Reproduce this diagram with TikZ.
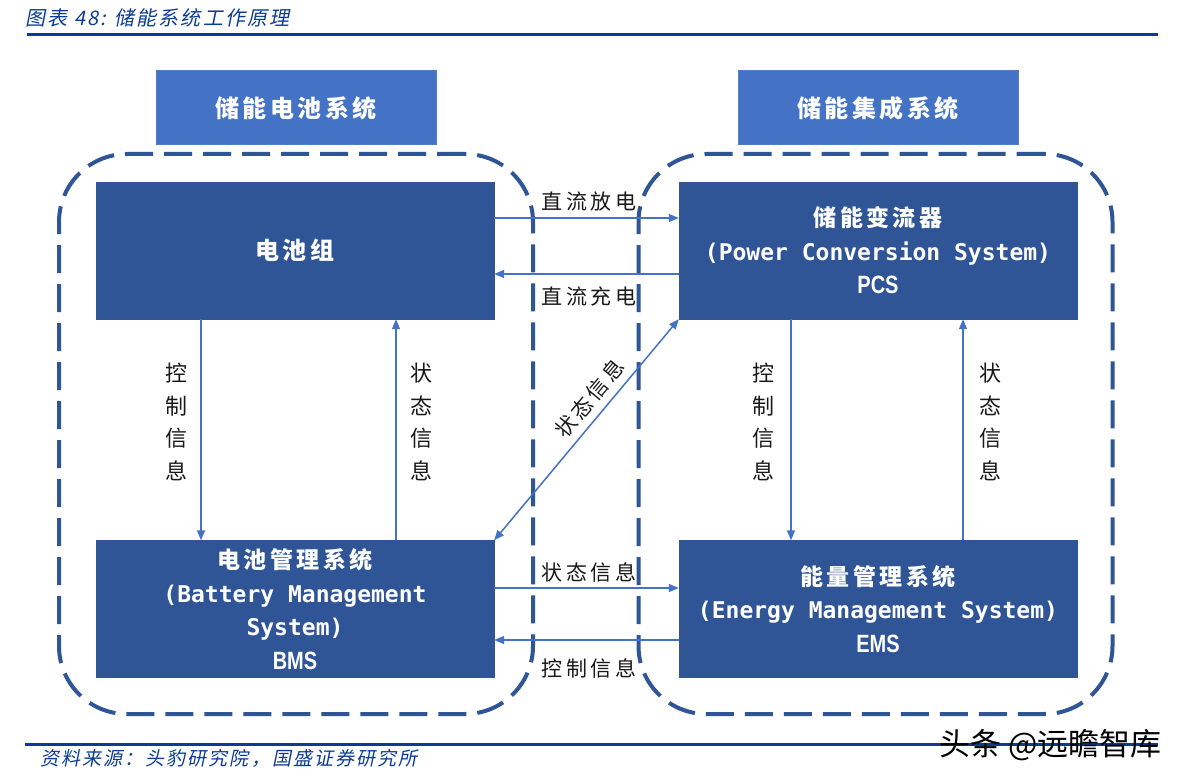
\documentclass[tikz,border=0pt]{standalone}
\usepackage{fontspec}
\setmainfont{Noto Sans CJK SC}
\newfontfamily\cjk{Noto Sans CJK SC}
\newfontfamily\cjkhead[LetterSpace=15]{Noto Sans CJK SC}
\newfontfamily\cjklab[LetterSpace=16]{Noto Sans CJK SC}
\newfontfamily\cjkit[FakeSlant=0.2,LetterSpace=11]{Noto Sans CJK SC}
\newfontfamily\monofont{DejaVu Sans Mono}
\newfontfamily\narrowfont[FakeStretch=0.8]{Liberation Sans}
\usetikzlibrary{arrows.meta}
\definecolor{boxblue}{RGB}{47,85,151}
\definecolor{headblue}{RGB}{68,114,196}
\definecolor{headedge}{RGB}{80,125,200}
\definecolor{arrowblue}{RGB}{68,114,196}
\definecolor{dashblue}{RGB}{47,85,151}
\definecolor{titleblue}{RGB}{10,60,150}
\definecolor{labgray}{RGB}{25,25,25}
\tikzset{
  dbox/.style={fill=boxblue, draw=boxblue, minimum width=398pt, minimum height=137pt, inner sep=0pt, text=white, align=center, font=\fontsize{23}{33.5}\selectfont},
  hbox/.style={fill=headblue, draw=headedge, line width=1pt, minimum width=280pt, minimum height=74pt, inner sep=0pt, text=white, font=\fontsize{24}{28}\cjkhead\bfseries},
  arr/.style={draw=arrowblue, line width=1.5pt, -{Triangle[length=10pt,width=8pt]}},
  dblarr/.style={draw=arrowblue, line width=1.5pt, {Triangle[length=10pt,width=8pt]}-{Triangle[length=10pt,width=8pt]}},
  lab/.style={text=labgray, font=\fontsize{21}{25}\cjklab, inner sep=0pt},
  vlab/.style={text=labgray, font=\fontsize{22}{32.5}\cjk, align=center, inner sep=0pt},
  dashbox/.style={draw=dashblue, line width=4pt, dash pattern=on 28pt off 11pt, rounded corners=68pt, minimum width=474pt, minimum height=560pt, inner sep=0pt}
}
\begin{document}
\begin{tikzpicture}[x=1pt,y=-1pt]
\useasboundingbox (0,0) rectangle (1178,781);
\fill[white] (0,0) rectangle (1178,781);
% title
\node[anchor=west, font=\fontsize{20}{22}\cjkit, text=titleblue, inner sep=0pt] (title) at (25,18) {图表 48:\hspace{8pt}储能系统工作原理};
\draw[titleblue, line width=3pt] (27,35) -- (1158,35);
% header boxes
\node[hbox] (h1) at (296,108) {储能电池系统};
\node[hbox] (h2) at (878,108) {储能集成系统};
% dashed groups
\node[dashbox] (g1) at (296,434) {};
\node[dashbox] (g2) at (875.5,434) {};
% main boxes
\node[dbox] (bat) at (295,250.5) {{\fontsize{24}{28}\cjkhead\bfseries 电池组}};
\node[dbox] (pcs) at (878,250.5) {{\cjkhead\bfseries 储能变流器}\\{\monofont\bfseries (Power Conversion System)}\\{\fontsize{25}{33.5}\narrowfont\bfseries PCS}};
\node[dbox] (bms) at (295,609) {{\cjkhead\bfseries 电池管理系统}\\{\monofont\bfseries (Battery Management}\\{\monofont\bfseries System)}\\{\fontsize{25}{33.5}\narrowfont\bfseries BMS}};
\node[dbox] (ems) at (878,609) {{\cjkhead\bfseries 能量管理系统}\\{\monofont\bfseries (Energy Management System)}\\{\fontsize{25}{33.5}\narrowfont\bfseries EMS}};
% horizontal arrows
\draw[arr] (bat.east |- 0,218) -- (pcs.west |- 0,218);
\draw[arr] (pcs.west |- 0,274) -- (bat.east |- 0,274);
\draw[arr] (bms.east |- 0,588) -- (ems.west |- 0,588);
\draw[arr] (ems.west |- 0,640) -- (bms.east |- 0,640);
\node[lab] (l1) at (589,202) {直流放电};
\node[lab] (l2) at (589,296) {直流充电};
\node[lab] (l3) at (589,572) {状态信息};
\node[lab] (l4) at (589,668) {控制信息};
% vertical arrows
\draw[arr] (bat.south -| 201,0) -- (bms.north -| 201,0);
\draw[arr] (bms.north -| 396,0) -- (bat.south -| 396,0);
\draw[arr] (pcs.south -| 791,0) -- (ems.north -| 791,0);
\draw[arr] (ems.north -| 963,0) -- (pcs.south -| 963,0);
\node[vlab] (v1) at (176,422) {控\\制\\信\\息};
\node[vlab] (v2) at (421,422) {状\\态\\信\\息};
\node[vlab] (v3) at (763,422) {控\\制\\信\\息};
\node[vlab] (v4) at (990,422) {状\\态\\信\\息};
% diagonal
\draw[dblarr] (bms.north east) -- (pcs.south west) node[lab, pos=0.59, sloped, above=7pt] (l5) {状态信息};
% source
\draw[titleblue, line width=3pt] (25,744) -- (1158,744);
\node[anchor=west, font=\fontsize{19}{21}\cjkit, text=titleblue, inner sep=0pt] (src) at (40,758) {资料来源：头豹研究院，国盛证券研究所};
\node[anchor=east, font=\fontsize{31}{33}\cjk, text=black, inner sep=0pt] (wm) at (1162,745) {头条 @远瞻智库};
\end{tikzpicture}
\end{document}
